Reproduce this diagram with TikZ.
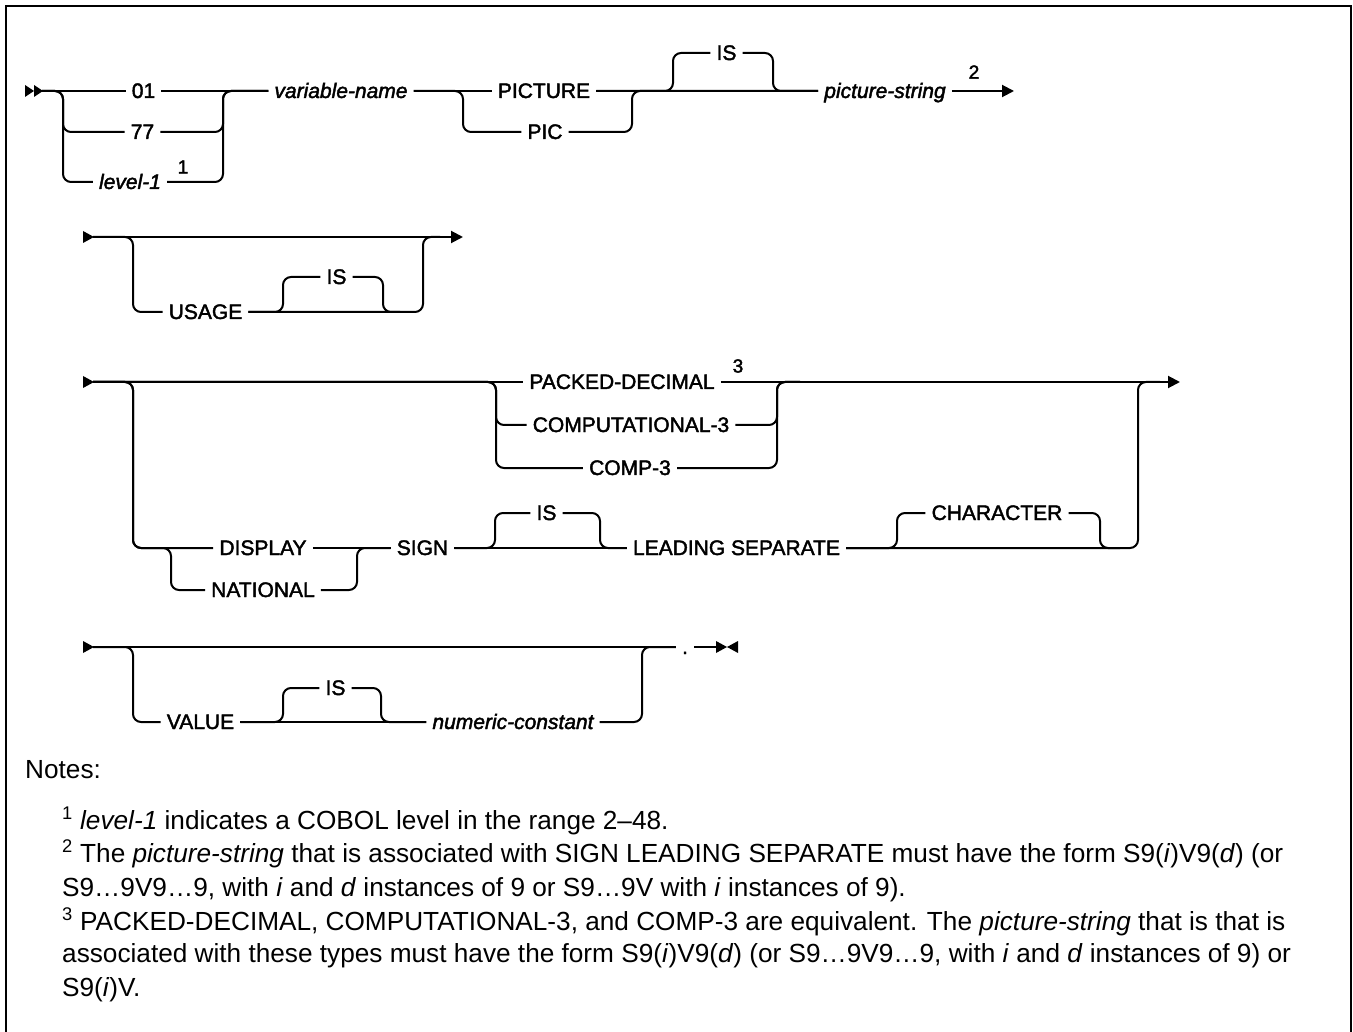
\documentclass[tikz,border=0pt]{standalone}
\usepackage{fontspec}
\setmainfont{Liberation Sans}
\newfontfamily\lblfont{Liberation Sans}[FakeBold=2]
\usetikzlibrary{arrows.meta}
\begin{document}
\begin{tikzpicture}[x=1pt,y=-1pt,
  rail/.style={line width=2pt, rounded corners=8pt},
  lbl/.style={font=\lblfont\fontsize{21}{24}\selectfont, inner xsep=6pt, inner ysep=0pt, text height=14pt, text depth=0pt},
  ilbl/.style={lbl, font=\lblfont\itshape\fontsize{21}{24}\selectfont},
  sup/.style={font=\lblfont\fontsize{19}{21}\selectfont, inner sep=0pt},
  note/.style={font=\fontsize{26.2}{30}\selectfont, anchor=base west, inner sep=0pt},
  arr/.style={-{Triangle[length=12pt,width=12pt]}},
  tip/.style={fill=black}
]
\useasboundingbox (0,0) rectangle (1353,1032);
% frame
\draw[line width=2.4pt] (6,1045) -- (6,6) -- (1351,6) -- (1351,1045);

% ---------- row 1 ----------
\fill[tip] (25,85) -- (34,91) -- (25,97) -- cycle;
\fill[tip] (34,85) -- (43,91) -- (34,97) -- cycle;
\coordinate (s1) at (42,91);
\node[lbl] (t01) at (143.5,91) {01};
\node[lbl] (t77) at (142.5,132) {77};
\node[ilbl] (tlev) at (130,182) {level-1};
\node[sup] (n1) at (183,167) {1};
\node[ilbl] (tvar) at (341,91) {variable-name};
\node[lbl] (tpicture) at (544,91) {PICTURE};
\node[lbl] (tpic) at (545,132) {PIC};
\node[lbl] (tis1) at (726.5,53) {IS};
\node[ilbl] (tpstr) at (885,91) {picture-string};
\node[sup] (n2) at (974,72) {2};
\coordinate (e1) at (1014,91);

\draw[rail] (s1) -- (t01.west);
\draw[rail] (s1) -- (63,91) -- (63,132) -- (t77.west);
\draw[rail] (s1) -- (63,91) -- (63,182) -- (tlev.west);
\draw[rail] (t01.east) -- (tvar.west);
\draw[rail] (t77.east) -- (223,132) -- (223,91) -- (tvar.west);
\draw[rail] (tlev.east) -- (223,182) -- (223,91) -- (tvar.west);
\draw[rail] (tvar.east) -- (tpicture.west);
\draw[rail] (tvar.east) -- (463,91) -- (463,132) -- (tpic.west);
\draw[rail] (tpic.east) -- (632,132) -- (632,91) -- (tpstr.west);
\draw[rail] (tpicture.east) -- (tpstr.west);
\draw[rail] (tpicture.east) -- (673,91) -- (673,53) -- (tis1.west);
\draw[rail] (tis1.east) -- (773,53) -- (773,91) -- (tpstr.west);
\draw[rail,arr] (tpstr.east) -- (e1);

% ---------- row 2 ----------
\fill[tip] (83,231) -- (94,237) -- (83,243) -- cycle;
\coordinate (s2) at (93,237);
\coordinate (m2) at (440,237);
\coordinate (e2) at (463,237);
\node[lbl] (tusage) at (205.5,312) {USAGE};
\node[lbl] (tis2) at (336.5,277) {IS};
\draw[rail,arr] (s2) -- (e2);
\draw[rail] (s2) -- (133,237) -- (133,312) -- (tusage.west);
\draw[rail] (tusage.east) -- (423,312) -- (423,237) -- (m2);
\draw[rail] (tusage.east) -- (283,312) -- (283,277) -- (tis2.west);
\draw[rail] (tis2.east) -- (383,277) -- (383,312) -- (400,312);

% ---------- row 3 ----------
\fill[tip] (83,376) -- (94,382) -- (83,388) -- cycle;
\coordinate (s3) at (93,382);
\coordinate (e3) at (1180,382);
\node[lbl] (tpacked) at (622,382) {PACKED-DECIMAL};
\node[sup] (n3) at (738,366) {3};
\node[lbl] (tcompl) at (631,425) {COMPUTATIONAL-3};
\node[lbl] (tcomp3) at (630,468) {COMP-3};
\node[lbl] (tdisplay) at (263,548) {DISPLAY};
\node[lbl] (tnational) at (263,590) {NATIONAL};
\node[lbl] (tsign) at (422.5,548) {SIGN};
\node[lbl] (tis3) at (546.5,513) {IS};
\node[lbl] (tleading) at (736.5,548) {LEADING SEPARATE};
\node[lbl] (tchar) at (997,513) {CHARACTER};

\draw[rail] (s3) -- (tpacked.west);
\draw[rail,arr] (tpacked.east) -- (e3);
\draw[rail] (s3) -- (496,382) -- (496,425) -- (tcompl.west);
\draw[rail] (s3) -- (496,382) -- (496,468) -- (tcomp3.west);
\draw[rail] (tcompl.east) -- (777,425) -- (777,382) -- (800,382);
\draw[rail] (tcomp3.east) -- (777,468) -- (777,382) -- (800,382);
\draw[rail] (s3) -- (133,382) -- (133,548) -- (tdisplay.west);
\draw[rail] (s3) -- (133,382) -- (133,548) -- (171,548) -- (171,590) -- (tnational.west);
\draw[rail] (tdisplay.east) -- (tsign.west);
\draw[rail] (tnational.east) -- (357,590) -- (357,548) -- (tsign.west);
\draw[rail] (tsign.east) -- (tleading.west);
\draw[rail] (tsign.east) -- (495,548) -- (495,513) -- (tis3.west);
\draw[rail] (tis3.east) -- (600,513) -- (600,548) -- (tleading.west);
\draw[rail] (tleading.east) -- (1138,548) -- (1138,382) -- (1160,382);
\draw[rail] (tleading.east) -- (897,548) -- (897,513) -- (tchar.west);
\draw[rail] (tchar.east) -- (1100,513) -- (1100,548) -- (1120,548);

% ---------- row 4 ----------
\fill[tip] (83,641) -- (94,647) -- (83,653) -- cycle;
\coordinate (s4) at (93,647);
\coordinate (e4) at (717,647);
\node[lbl] (tvalue) at (200.5,722) {VALUE};
\node[lbl] (tis4) at (335.5,688) {IS};
\node[ilbl] (tnum) at (513,722) {numeric-constant};
\node[lbl] (tdot) at (685,647) {.};
\draw[rail] (s4) -- (tdot.west);
\draw[rail] (s4) -- (133,647) -- (133,722) -- (tvalue.west);
\draw[rail] (tvalue.east) -- (tnum.west);
\draw[rail] (tvalue.east) -- (283,722) -- (283,688) -- (tis4.west);
\draw[rail] (tis4.east) -- (381,688) -- (381,722) -- (tnum.west);
\draw[rail] (tnum.east) -- (642,722) -- (642,647) -- (tdot.west);
\draw[rail] (tdot.east) -- (e4);
\fill[tip] (716,641) -- (727,647) -- (716,653) -- cycle;
\fill[tip] (738,641) -- (727,647) -- (738,653) -- cycle;

% ---------- notes ----------
\node[note] (notes) at (25,778) {Notes:};
\node[note] (nt1) at (62,829) {\textsuperscript{1} \textit{level-1} indicates a COBOL level in the range 2–48.};
\node[note] (nt2a) at (62,862) {\textsuperscript{2} The \textit{picture-string} that is associated with SIGN LEADING SEPARATE must have the form S9(\textit{i})V9(\textit{d}) (or};
\node[note] (nt2b) at (62,896) {S9…9V9…9, with \textit{i} and \textit{d} instances of 9 or S9…9V with \textit{i} instances of 9).};
\node[note] (nt3a) at (62,930) {\textsuperscript{3} PACKED-DECIMAL, COMPUTATIONAL-3, and COMP-3 are equivalent. The \textit{picture-string} that is that is};
\node[note] (nt3b) at (62,962) {associated with these types must have the form S9(\textit{i})V9(\textit{d}) (or S9…9V9…9, with \textit{i} and \textit{d} instances of 9) or};
\node[note] (nt3c) at (62,996) {S9(\textit{i})V.};
\end{tikzpicture}
\end{document}
